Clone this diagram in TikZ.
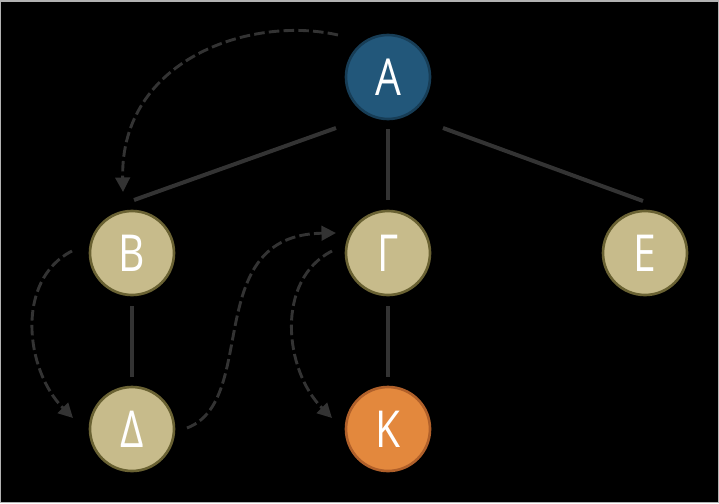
\documentclass[tikz,border=0pt]{standalone}
\usepackage{fontspec}
\newfontfamily\nodefont{Open Sans}[FakeStretch=0.8]
\usetikzlibrary{arrows.meta,calc}
\definecolor{rootblue}{HTML}{22577A}
\definecolor{rootrim}{HTML}{173D56}
\definecolor{khaki}{HTML}{C7BB8B}
\definecolor{olive}{HTML}{6A6233}
\definecolor{goalfill}{HTML}{E3883D}
\definecolor{goalrim}{HTML}{B0602A}
\definecolor{wire}{HTML}{333333}

\begin{document}
\begin{tikzpicture}[
  font=\nodefont\fontsize{29}{29}\selectfont,
  base/.style={circle,minimum size=1.68cm,inner sep=0pt,line width=1.5pt,text=white},
  rootnode/.style={base,fill=rootblue,draw=rootrim},
  kid/.style={base,fill=khaki,draw=olive},
  goal/.style={base,fill=goalfill,draw=goalrim},
  treeline/.style={wire,line width=0.08cm},
  walk/.style={wire,line width=0.058cm,dash pattern=on 6pt off 2.4pt,
               -{Triangle[length=0.29cm,width=0.29cm]}},
]
% frame
\useasboundingbox (0,0) rectangle (14.38,10.06);
\fill[black,draw=gray!60,line width=0.03cm] (0.015,0.015) rectangle (14.365,10.045);
% nodes
\node[rootnode] (a) at (7.76,8.52) {Α};
\node[kid]      (b) at (2.64,5.00) {Β};
\node[kid]      (g) at (7.76,5.00) {Γ};
\node[kid]      (e) at (12.90,5.00) {Ε};
\node[kid]      (d) at (2.64,1.48) {Δ};
\node[goal]     (k) at (7.76,1.48) {Κ};
% tree edges
\draw[treeline] ([shift={(-1.04,-1.02)}]a.center) -- ([shift={(0.04,1.06)}]b.center);
\draw[treeline] ([shift={(0,-1.04)}]a.center) -- ([shift={(0,1.06)}]g.center);
\draw[treeline] ([shift={(1.10,-1.02)}]a.center) -- ([shift={(-0.04,1.04)}]e.center);
\draw[treeline] ([shift={(0,-1.06)}]b.center) -- ([shift={(0,1.04)}]d.center);
\draw[treeline] ([shift={(0,-1.06)}]g.center) -- ([shift={(0,1.04)}]k.center);
% visiting order
\draw[walk] ([shift={(-1.00,0.84)}]a.center) .. controls +(-1.76,0.40) and +(-0.06,2.64) .. ([shift={(-0.18,1.22)}]b.center);
\draw[walk] ([shift={(-1.20,0.04)}]b.center) .. controls +(-1.14,-0.58) and +(-0.96,0.96) .. ([shift={(-1.18,0.22)}]d.center);
\draw[walk] ([shift={(1.10,0.02)}]d.center) .. controls +(1.46,0.56) and +(-2.72,-0.04) .. ([shift={(-1.04,0.40)}]g.center);
\draw[walk] ([shift={(-1.12,0.04)}]g.center) .. controls +(-1.14,-0.58) and +(-0.96,0.96) .. ([shift={(-1.12,0.22)}]k.center);
\end{tikzpicture}
\end{document}
